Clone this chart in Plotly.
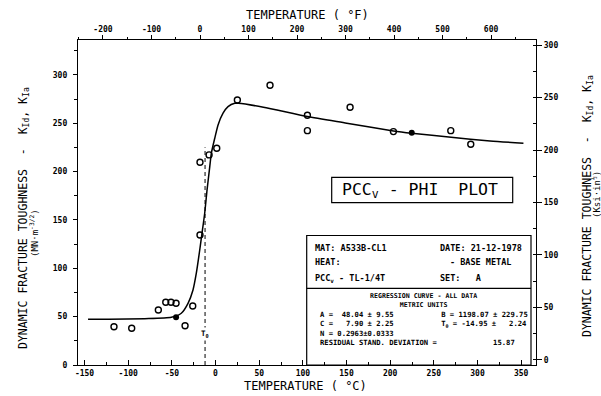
import plotly.graph_objects as go

# ---------------- data ----------------
# open circles: temperature (deg C) and K (MN m^-3/2)
temp_open = [-116.3, -96.0, -65.5, -57.0, -51.0, -45.2, -34.9, -26.1, -17.8, -17.8,
             -7.4, 1.4, 25.0, 62.4, 105.2, 105.2, 154.1, 203.7, 269.4, 292.3]
k_open = [39.6, 38.0, 56.9, 64.8, 64.8, 63.8, 40.6, 61.0, 134.4, 209.6,
          217.2, 224.1, 274.0, 289.2, 258.2, 242.3, 266.5, 241.3, 242.3, 228.2]
# filled points
temp_filled = [-45.2, 224.7]
k_filled = [49.3, 240.2]
# regression curve
curve_t = [-146.0, -122.3, -81.1, -50.6, -39.2, -31.5, -25.8, -22.0, -18.1, -15.5,
           -12.4, -9.7, -6.6, -4.8, -0.9, 2.9, 8.6, 14.3, 22.0, 26.1,
           54.8, 105.2, 150.3, 203.7, 224.7, 269.8, 314.4, 352.6]
curve_k = [47.3, 47.3, 47.9, 49.3, 53.5, 63.8, 77.6, 94.9, 118.9, 136.2,
           156.9, 181.0, 205.1, 218.9, 234.4, 248.2, 260.3, 267.1, 270.6, 270.6,
           266.5, 256.8, 250.0, 242.0, 239.6, 235.5, 231.6, 229.3]
# T0 marker line
t0_line_t = [-12.0, -12.0]
t0_line_k = [0.0, 225.0]

# axis ranges
x_range_c = [-157.5, 367.0]
x_range_f = [v * 1.8 + 32 for v in x_range_c]
y_range_mn = [0, 336]
y_range_ksi = [-4.8, 304.8]

# tick values
x_ticks_c = [-150, -100, -50, 0, 50, 100, 150, 200, 250, 300, 350]
x_ticks_f = [-200, -100, 0, 100, 200, 300, 400, 500, 600]

# info-box texts
info_left = ["MAT: A533B-CL1", "HEAT:", "PCC<sub>v</sub> - TL-1/4T"]
info_right = ["DATE: 21-12-1978", "- BASE METAL", "SET:   A"]
info_header = ["REGRESSION CURVE - ALL DATA", "METRIC UNITS"]
info_body = [
    "A =  48.04 ± 9.55           B = 1198.07 ± 229.75",
    "C =   7.90 ± 2.25           T<sub>0</sub> = -14.95 ±   2.24",
    "N = 0.2963±0.0333",
    "RESIDUAL STAND. DEVIATION =             15.87",
]

FONT = "DejaVu Sans Mono"

# plot-area pixel geometry
L, R, T, B = 78, 536, 40, 365
W, H = 601, 396


def px(x):
    return (x - L) / (R - L)


def py(y):
    return (B - y) / (B - T)


fig = go.Figure()

fig.add_trace(go.Scatter(x=curve_t, y=curve_k, mode="lines",
                         line=dict(color="black", width=1.5, shape="spline", smoothing=0.6),
                         hoverinfo="skip"))
fig.add_trace(go.Scatter(x=t0_line_t, y=t0_line_k, mode="lines",
                         line=dict(color="black", width=1, dash="4px,3px"),
                         hoverinfo="skip"))
fig.add_trace(go.Scatter(x=temp_open, y=k_open, mode="markers",
                         marker=dict(symbol="circle-open", size=6, color="black",
                                     line=dict(width=1.4, color="black"))))
fig.add_trace(go.Scatter(x=temp_filled, y=k_filled, mode="markers",
                         marker=dict(symbol="circle", size=6, color="black")))
# attach secondary axes
fig.add_trace(go.Scatter(x=[None], y=[None], xaxis="x2", yaxis="y", hoverinfo="skip"))
fig.add_trace(go.Scatter(x=[None], y=[None], xaxis="x", yaxis="y2", hoverinfo="skip"))

tickfont = dict(family=FONT, size=8, color="black", weight="bold")
axis_common = dict(showline=True, linecolor="black", linewidth=1.3, showgrid=False,
                   zeroline=False, tickcolor="black", tickfont=tickfont, tickwidth=1)

fig.update_layout(
    width=W, height=H,
    margin=dict(l=L, r=W - R, t=T, b=H - B),
    paper_bgcolor="white", plot_bgcolor="white",
    showlegend=False,
    xaxis=dict(range=x_range_c, tickmode="array", tickvals=x_ticks_c,
               ticktext=[str(v) for v in x_ticks_c], ticks="inside", ticklen=5,
               minor=dict(dtick=25, ticks="inside", ticklen=3, tickcolor="black"),
               **axis_common),
    xaxis2=dict(range=x_range_f, tickmode="array", tickvals=x_ticks_f,
                ticktext=[str(v) for v in x_ticks_f], overlaying="x", anchor="y", side="top",
                ticks="outside", ticklen=4,
                minor=dict(dtick=50, ticks="outside", ticklen=2, tickcolor="black"),
                **axis_common),
    yaxis=dict(range=y_range_mn, dtick=50, ticks="outside", ticklen=4,
               minor=dict(dtick=25, ticks="outside", ticklen=3, tickcolor="black"),
               ticklabelstandoff=4, **axis_common),
    yaxis2=dict(range=y_range_ksi, dtick=50, overlaying="y", anchor="x", side="right",
                ticks="outside", ticklen=5,
                minor=dict(dtick=25, ticks="inside", ticklen=3, tickcolor="black"),
                **axis_common),
)

ann = []


def text(x, y, s, size=8.5, anchor="left", bold=True, angle=0, bg=None, align="left"):
    d = dict(x=px(x), y=py(y), xref="paper", yref="paper", text=s,
             showarrow=False, xanchor=anchor, yanchor="middle", textangle=angle, align=align,
             font=dict(family=FONT, size=size, color="black",
                       weight="bold" if bold else "normal"))
    if bg:
        d["bgcolor"] = bg
    ann.append(d)


# axis titles
text(307, 15, "TEMPERATURE ( °F)", size=12, anchor="center", bold=False)
text(305, 386, "TEMPERATURE ( °C)", size=12, anchor="center", bold=False)
text(23, 218, "DYNAMIC FRACTURE TOUGHNESS  -  K<sub>Id</sub>, K<sub>Ia</sub>", size=11.5,
     anchor="center", bold=False, angle=-90)
text(34, 233, "(MN·m<sup>-3/2</sup>)", size=9, anchor="center", bold=False, angle=-90)
text(587, 206, "DYNAMIC FRACTURE TOUGHNESS  -  K<sub>Id</sub>, K<sub>Ia</sub>", size=11.5,
     anchor="center", bold=False, angle=-90)
text(596, 195, "(Ksi·in<sup>½</sup>)", size=9, anchor="center", bold=False, angle=-90)

# T0 label
text(205, 334, "T<sub>0</sub>", size=7.5, anchor="center", bg="white")

# PCC box title
text(340, 190, "PCC<sub>v</sub> - PHI  PLOT", size=16.5, anchor="left", bold=False)

# info box
for yy, s in zip([248.3, 261.7, 278.3], info_left):
    text(312.7, yy, s)
for yy, xx, s in zip([248.3, 261.7, 278.3], [438, 448, 438], info_right):
    text(xx, yy, s)
text(423, 300.3, "<br>".join(info_header), size=6.6, anchor="center", align="center")
text(318, 328.8, "<br>".join(info_body), size=7.2, anchor="left")

fig.update_layout(annotations=ann)

shapes = [
    dict(type="rect", xref="paper", yref="paper", x0=px(331.7), x1=px(512.7),
         y0=py(202.7), y1=py(177.3), line=dict(color="black", width=1.2)),
    dict(type="rect", xref="paper", yref="paper", x0=px(306.7), x1=px(531),
         y0=py(365), y1=py(235.5), line=dict(color="black", width=1.2)),
    dict(type="line", xref="paper", yref="paper", x0=px(306.7), x1=px(531),
         y0=py(288.3), y1=py(288.3), line=dict(color="black", width=1.2)),
]
fig.update_layout(shapes=shapes)

fig.write_html("out.html")
